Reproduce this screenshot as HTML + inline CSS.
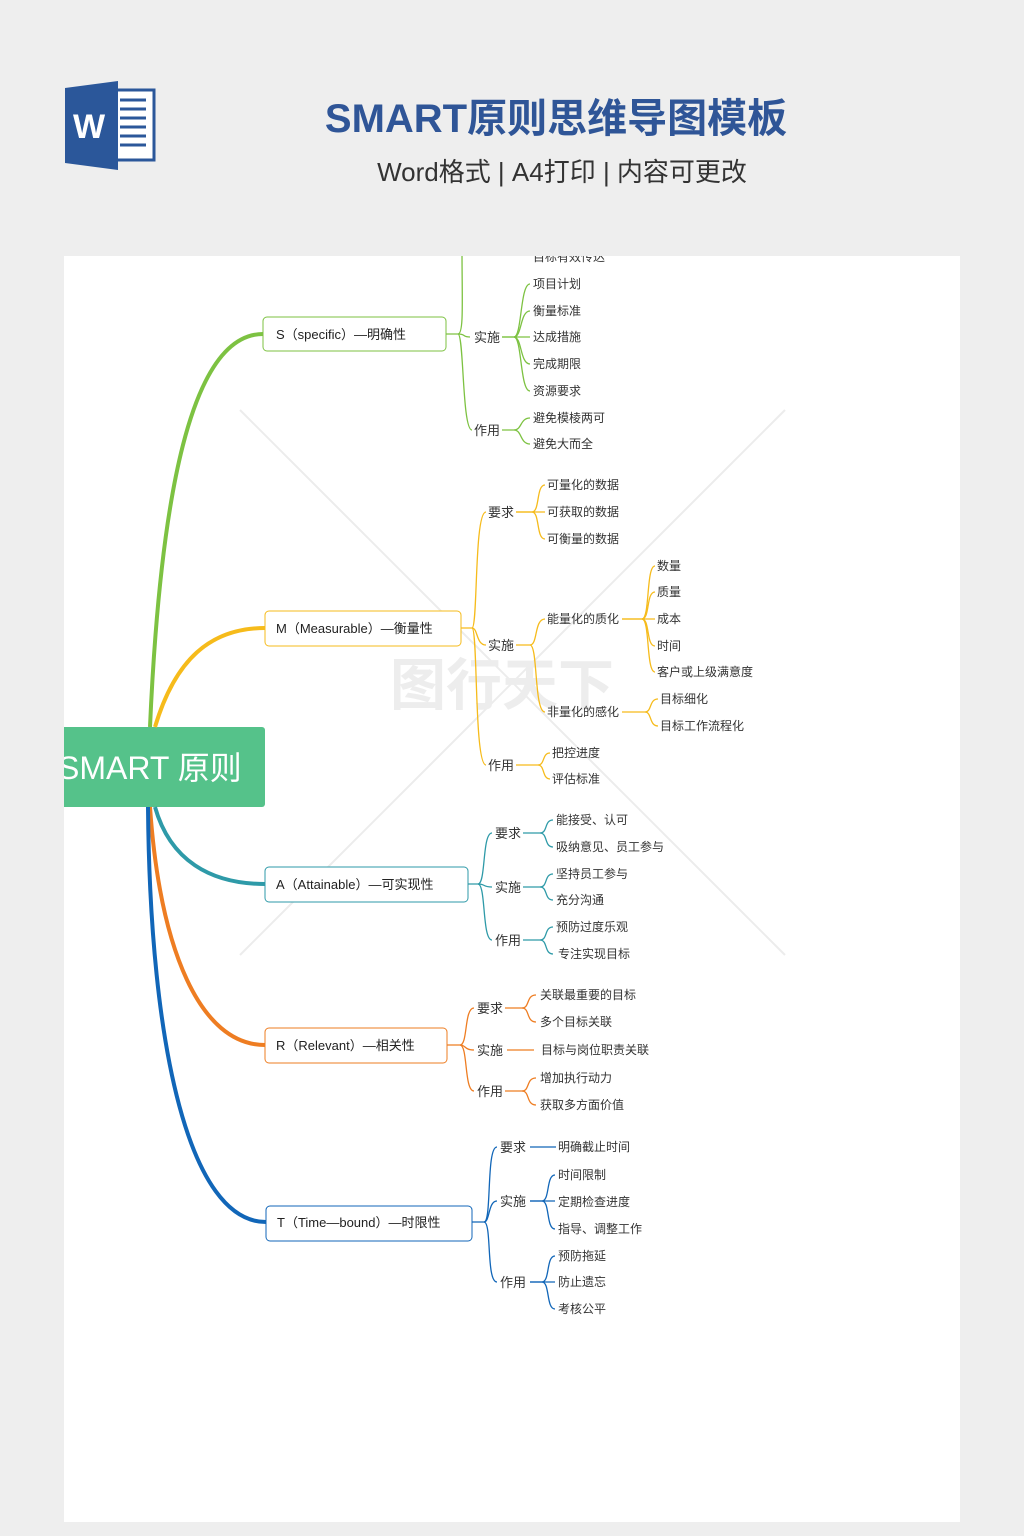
<!DOCTYPE html>
<html><head><meta charset="utf-8"><style>
html,body{margin:0;padding:0;background:#eeeeee;}
body{width:1024px;height:1536px;position:relative;overflow:hidden;font-family:"Liberation Sans","Noto Sans CJK SC",sans-serif;}
svg{position:absolute;left:0;top:0;}
</style></head><body>
<svg width="1024" height="1536" viewBox="0 0 1024 1536" xmlns="http://www.w3.org/2000/svg" font-family="Liberation Sans, Noto Sans CJK SC, sans-serif">
<defs><clipPath id="pg"><rect x="64" y="256" width="896" height="1266"/></clipPath></defs>
<rect x="100" y="90" width="54" height="70" fill="#fff" stroke="#2b579a" stroke-width="3"/>
<g stroke="#2b579a" stroke-width="3">
<line x1="120" y1="100" x2="146" y2="100"/><line x1="120" y1="109" x2="146" y2="109"/><line x1="120" y1="118" x2="146" y2="118"/><line x1="120" y1="127" x2="146" y2="127"/><line x1="120" y1="136" x2="146" y2="136"/><line x1="120" y1="145" x2="146" y2="145"/></g>
<polygon points="65,88 118,81 118,170 65,163" fill="#2b579a"/>
<text x="73" y="138" font-size="34" font-weight="bold" fill="#fff">W</text>
<text x="556" y="132" text-anchor="middle" font-size="40" font-weight="bold" fill="#2f5597">SMART原则思维导图模板</text>
<text x="562" y="181" text-anchor="middle" font-size="26" fill="#333">Word格式 | A4打印 | 内容可更改</text>
<rect x="64" y="256" width="896" height="1266" fill="#fff"/>
<g clip-path="url(#pg)">
<g stroke="#ececec" stroke-width="2"><line x1="240" y1="410" x2="785" y2="955"/><line x1="785" y1="410" x2="240" y2="955"/></g>
<text x="390" y="705" font-size="56" fill="#ededed" font-weight="bold">图行天下</text>
<rect x="50" y="727" width="215" height="80" rx="3" fill="#55c28a"/>
<text x="58" y="779" font-size="32" fill="#fff">SMART 原则</text>
<g fill="none">
<g stroke="#7dc242" stroke-width="1.3">
<path d="M150 727 C160 500 190 334 263 334" stroke-width="4"/>
<path d="M446 334 H458 C466 334 462 337 470 337"/><path d="M458 334 C464 334 462 300 462 250"/><path d="M458 334 C464 334 462 430 472 430"/>
<path d="M502 337 H514 C522 337 520 284 530 284"/><path d="M514 337 C522 337 520 311 530 311"/><path d="M502 337 H530"/><path d="M514 337 C522 337 520 364 530 364"/><path d="M514 337 C522 337 520 391 530 391"/>
<path d="M502 430 H514 C522 430 520 418 530 418"/><path d="M514 430 C522 430 520 444 530 444"/>
</g>
<g stroke="#f6bb1b" stroke-width="1.3">
<path d="M155 727 C175 660 210 628 265 628" stroke-width="4"/>
<path d="M461 628 H472 C478 628 474 512 486 512"/><path d="M472 628 C478 628 476 645 486 645"/><path d="M472 628 C478 628 474 765 486 765"/>
<path d="M516 512 H532 C540 512 536 485 545 485"/><path d="M516 512 H545"/><path d="M532 512 C540 512 536 539 545 539"/>
<path d="M516 645 H530 C538 645 534 619 545 619"/><path d="M530 645 C538 645 534 712 545 712"/>
<path d="M622 619 H642 C650 619 646 566 655 566"/><path d="M642 619 C650 619 646 592 655 592"/><path d="M622 619 H655"/><path d="M642 619 C650 619 646 646 655 646"/><path d="M642 619 C650 619 646 672 655 672"/>
<path d="M622 712 H645 C652 712 649 699 658 699"/><path d="M645 712 C652 712 649 726 658 726"/>
<path d="M516 765 H538 C545 765 542 753 550 753"/><path d="M538 765 C545 765 542 779 550 779"/>
</g>
<g stroke="#2e9aa8" stroke-width="1.3">
<path d="M155 807 C170 860 210 884 265 884" stroke-width="4"/>
<path d="M468 884 H478 C486 884 482 833 492 833"/><path d="M478 884 C486 884 482 887 492 887"/><path d="M478 884 C486 884 482 940 492 940"/>
<path d="M523 833 H540 C548 833 544 820 553 820"/><path d="M540 833 C548 833 544 847 553 847"/>
<path d="M523 887 H540 C548 887 544 874 553 874"/><path d="M540 887 C548 887 544 900 553 900"/>
<path d="M523 940 H540 C548 940 544 927 553 927"/><path d="M540 940 C548 940 544 954 553 954"/>
</g>
<g stroke="#ee7d22" stroke-width="1.3">
<path d="M150 807 C160 950 200 1045 265 1045" stroke-width="4"/>
<path d="M447 1045 H460 C468 1045 464 1008 474 1008"/><path d="M460 1045 C466 1045 464 1050 474 1050"/><path d="M460 1045 C468 1045 464 1091 474 1091"/>
<path d="M505 1008 H522 C530 1008 526 995 536 995"/><path d="M522 1008 C530 1008 526 1022 536 1022"/>
<path d="M507 1050 H534"/>
<path d="M505 1091 H522 C530 1091 526 1078 536 1078"/><path d="M522 1091 C530 1091 526 1105 536 1105"/>
</g>
<g stroke="#1166b8" stroke-width="1.3">
<path d="M148 807 C150 1050 190 1222 266 1222" stroke-width="4"/>
<path d="M472 1222 H484 C492 1222 486 1147 497 1147"/><path d="M484 1222 C490 1222 488 1201 497 1201"/><path d="M484 1222 C492 1222 486 1282 497 1282"/>
<path d="M530 1147 H556"/>
<path d="M530 1201 H542 C550 1201 546 1175 555 1175"/><path d="M530 1201 H555"/><path d="M542 1201 C550 1201 546 1229 555 1229"/>
<path d="M530 1282 H542 C550 1282 546 1256 555 1256"/><path d="M530 1282 H555"/><path d="M542 1282 C550 1282 546 1309 555 1309"/>
</g>
</g>
<rect x="263" y="317" width="183" height="34" rx="4" fill="#fff" stroke="#7dc242"/>
<rect x="265" y="611" width="196" height="35" rx="4" fill="#fff" stroke="#f6bb1b"/>
<rect x="265" y="867" width="203" height="35" rx="4" fill="#fff" stroke="#2e9aa8"/>
<rect x="265" y="1028" width="182" height="35" rx="4" fill="#fff" stroke="#ee7d22"/>
<rect x="266" y="1206" width="206" height="35" rx="4" fill="#fff" stroke="#1166b8"/>
<g font-size="13" fill="#222">
<text x="276" y="339">S（specific）—明确性</text>
<text x="276" y="633">M（Measurable）—衡量性</text>
<text x="276" y="889">A（Attainable）—可实现性</text>
<text x="276" y="1050">R（Relevant）—相关性</text>
<text x="277" y="1227">T（Time—bound）—时限性</text>
</g>
<g font-size="13" fill="#333">
<text x="474" y="342">实施</text><text x="474" y="435">作用</text>
<text x="488" y="517">要求</text><text x="488" y="650">实施</text><text x="488" y="770">作用</text>
<text x="495" y="838">要求</text><text x="495" y="892">实施</text><text x="495" y="945">作用</text>
<text x="477" y="1013">要求</text><text x="477" y="1055">实施</text><text x="477" y="1096">作用</text>
<text x="500" y="1152">要求</text><text x="500" y="1206">实施</text><text x="500" y="1287">作用</text>
</g>
<g font-size="12" fill="#333">
<text x="533" y="261">目标有效传达</text>
<text x="533" y="288">项目计划</text><text x="533" y="315">衡量标准</text><text x="533" y="341">达成措施</text><text x="533" y="368">完成期限</text><text x="533" y="395">资源要求</text>
<text x="533" y="422">避免模棱两可</text><text x="533" y="448">避免大而全</text>
<text x="547" y="489">可量化的数据</text><text x="547" y="516">可获取的数据</text><text x="547" y="543">可衡量的数据</text>
<text x="547" y="623">能量化的质化</text><text x="547" y="716">非量化的感化</text>
<text x="657" y="570">数量</text><text x="657" y="596">质量</text><text x="657" y="623">成本</text><text x="657" y="650">时间</text><text x="657" y="676">客户或上级满意度</text>
<text x="660" y="703">目标细化</text><text x="660" y="730">目标工作流程化</text>
<text x="552" y="757">把控进度</text><text x="552" y="783">评估标准</text>
<text x="556" y="824">能接受、认可</text><text x="556" y="851">吸纳意见、员工参与</text>
<text x="556" y="878">坚持员工参与</text><text x="556" y="904">充分沟通</text>
<text x="556" y="931">预防过度乐观</text><text x="558" y="958">专注实现目标</text>
<text x="540" y="999">关联最重要的目标</text><text x="540" y="1026">多个目标关联</text>
<text x="541" y="1054">目标与岗位职责关联</text>
<text x="540" y="1082">增加执行动力</text><text x="540" y="1109">获取多方面价值</text>
<text x="558" y="1151">明确截止时间</text>
<text x="558" y="1179">时间限制</text><text x="558" y="1206">定期检查进度</text><text x="558" y="1233">指导、调整工作</text>
<text x="558" y="1260">预防拖延</text><text x="558" y="1286">防止遗忘</text><text x="558" y="1313">考核公平</text>
</g>
</g>
</svg>
</body></html>
